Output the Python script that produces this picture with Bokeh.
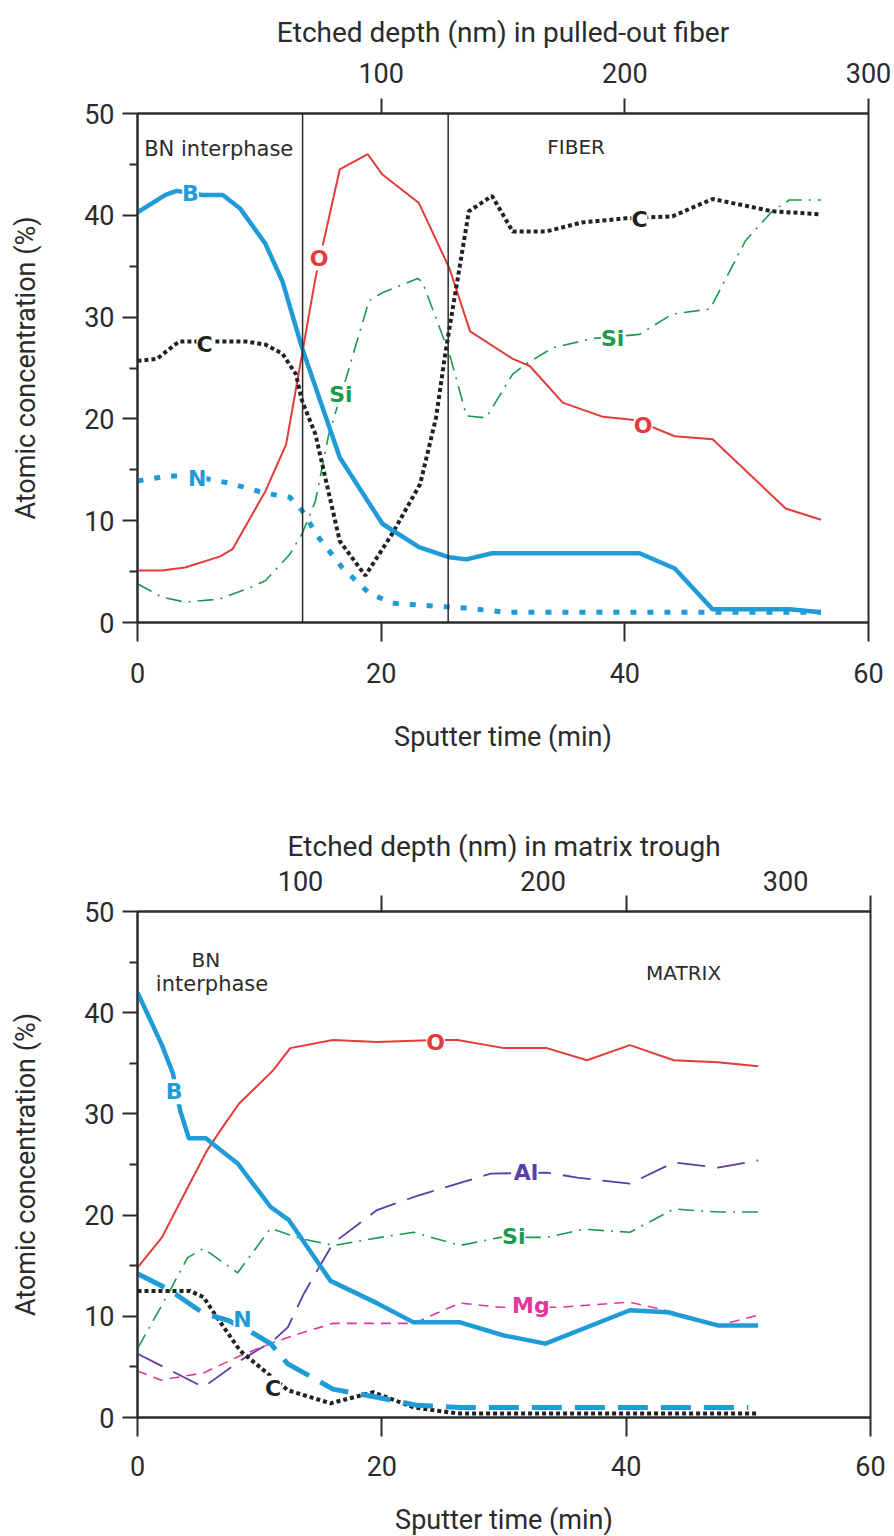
from bokeh.plotting import figure
from bokeh.models import Range1d, LinearAxis, FixedTicker, Span, Label
from bokeh.layouts import column
from bokeh.embed import file_html
from bokeh.resources import INLINE

FONT = "DejaVu Sans"
AXFONT = "Roboto"
INK = "#2b2b2b"
BLUE = "#1f9bd7"
RED = "#e53b3b"
GREEN = "#1b9a4f"
PURPLE = "#5a3ea6"
MAGENTA = "#e0379b"
BLACK = "#222222"

# ---------------- axes / ticks ----------------
time_ticks = [0, 20, 40, 60]
conc_ticks = [0, 10, 20, 30, 40, 50]
conc_minor = [5, 15, 25, 35, 45]
depth_tick_marks = [20, 40, 60]          # tick marks on top edge (in minutes)
depth_labels = [100, 200, 300]           # depth values (nm)
fiber_depth_range = (0, 300)
matrix_depth_range = (32.8, 335.0)
fiber_boundaries = [13.55, 25.5]

# ---------------- top panel: pulled-out fiber ----------------
fib_B_t = [0, 2.3, 3.2, 5.3, 7, 8.4, 10.5, 11.9, 13.5, 16.6, 20.1, 23.1, 25.6, 27.0, 29.1, 41.2, 44.1, 47.2, 53.5, 56.1]
fib_B_c = [40.3, 42.0, 42.4, 42.0, 42.0, 40.7, 37.2, 33.5, 27.0, 16.2, 9.7, 7.4, 6.4, 6.2, 6.8, 6.8, 5.3, 1.3, 1.3, 1.0]

fib_O_t = [0, 2, 3.9, 6.8, 7.8, 10.5, 12.2, 13.5, 14.6, 16.6, 18.9, 20.1, 23.1, 25.6, 27.3, 30.8, 32.2, 34.9, 38.2, 40.8, 44.1, 47.2, 53.2, 56.1]
fib_O_c = [5.1, 5.1, 5.4, 6.5, 7.2, 12.9, 17.5, 26.3, 33.8, 44.5, 46.0, 44.0, 41.2, 34.8, 28.6, 25.9, 25.2, 21.6, 20.2, 19.9, 18.3, 18.0, 11.2, 10.1]

fib_C_t = [0, 1.6, 3.4, 7, 8.9, 10.5, 11.9, 13, 13.5, 14.6, 16.6, 18.7, 20.9, 23.2, 24.5, 25.3, 27.2, 29.1, 30.8, 33.5, 36.5, 40.1, 43.9, 47.2, 52.1, 56]
fib_C_c = [25.7, 25.9, 27.6, 27.6, 27.6, 27.3, 26.4, 24.4, 21.8, 18.5, 8.0, 4.6, 8.7, 13.6, 20.1, 26.7, 40.4, 41.9, 38.4, 38.4, 39.3, 39.7, 39.9, 41.6, 40.4, 40.1]

fib_N_t = [0, 2, 4, 7.5, 10.5, 12.5, 13.5, 14.9, 16.8, 19, 20.9, 24.5, 27.2, 30.2, 47.2, 56.1]
fib_N_c = [13.9, 14.3, 14.5, 13.7, 12.7, 12.3, 11.0, 8.3, 5.4, 2.9, 1.9, 1.6, 1.4, 1.0, 1.0, 1.0]

fib_Si_t = [0, 2, 3.9, 6.7, 9.2, 10.5, 12.5, 13.5, 14.6, 15.7, 16.8, 19, 20.1, 23, 23.4, 25.6, 27, 28.6, 30.8, 31.9, 34.1, 37.4, 41.2, 43.9, 47, 49.9, 52.1, 53.5, 56.1]
fib_Si_c = [3.8, 2.5, 2.0, 2.3, 3.4, 4.1, 6.7, 8.7, 11.9, 18.5, 22.7, 31.6, 32.4, 33.8, 33.4, 26.4, 20.3, 20.1, 24.4, 25.4, 27.0, 27.9, 28.3, 30.3, 30.8, 37.5, 40.4, 41.5, 41.5]

# ---------------- bottom panel: matrix trough ----------------
mat_B_t = [0, 2, 2.9, 3.5, 4.2, 5.6, 6.2, 8.2, 10.9, 12.4, 15.8, 19.6, 22.6, 26.4, 30, 33.4, 40.3, 43.4, 47.5, 50.8]
mat_B_c = [42.0, 36.8, 34.0, 30.3, 27.6, 27.6, 27.0, 25.1, 20.8, 19.5, 13.5, 11.3, 9.4, 9.4, 8.1, 7.3, 10.6, 10.4, 9.1, 9.1]

mat_O_t = [0, 2, 4.1, 5.7, 6.8, 8.3, 11.1, 12.5, 16, 19.6, 24.4, 26.2, 30, 33.5, 36.8, 40.3, 43.9, 47.5, 50.8]
mat_O_c = [14.8, 17.8, 22.7, 26.4, 28.4, 31.0, 34.3, 36.5, 37.3, 37.1, 37.3, 37.3, 36.5, 36.5, 35.3, 36.8, 35.3, 35.1, 34.7]

mat_Si_t = [0, 2.5, 4.1, 5.4, 8.2, 10.9, 13.3, 16.1, 19.9, 22.6, 26.4, 29.7, 33.5, 36.5, 40.3, 43.9, 47.5, 50.8]
mat_Si_c = [6.8, 12.2, 15.8, 16.7, 14.3, 18.7, 17.7, 17.0, 17.8, 18.3, 17.0, 17.8, 17.8, 18.6, 18.3, 20.6, 20.3, 20.3]

mat_Al_t = [0, 5.4, 8.4, 11.1, 12.3, 13.6, 16, 19.6, 22.9, 28.9, 33.5, 36, 40.3, 43.9, 47.5, 50.8]
mat_Al_c = [6.3, 3.0, 5.6, 7.6, 8.9, 12.2, 17.2, 20.5, 21.9, 24.1, 24.2, 23.7, 23.1, 25.2, 24.7, 25.4]

mat_Mg_t = [0, 1.9, 5.4, 8.4, 11.1, 13.3, 16, 19.6, 22.6, 26.4, 29.7, 34.6, 40.3, 43.9, 47.5, 50.8]
mat_Mg_c = [4.6, 3.7, 4.4, 6.1, 7.4, 8.3, 9.3, 9.3, 9.3, 11.3, 10.9, 10.9, 11.4, 10.4, 9.1, 10.1]

mat_N_t = [0, 2.5, 5.4, 7.4, 9.5, 10.9, 12.3, 14.4, 16, 19.6, 22.9, 26.4, 50]
mat_N_c = [14.2, 12.7, 10.3, 9.6, 8.3, 7.3, 5.3, 3.9, 2.8, 2.0, 1.2, 1.0, 1.0]

mat_C_t = [0, 4.3, 5.4, 6.5, 8.4, 10.1, 12.3, 15.8, 19.3, 22.6, 26.2, 50.8]
mat_C_c = [12.5, 12.5, 11.9, 9.9, 6.6, 4.9, 2.7, 1.4, 2.5, 1.0, 0.4, 0.4]


def make_panel(fw, fh, left, right, top, bottom, depth_range, depth_title,
               tick_out_top, s_top_labels, s_top_title, s_bot_labels, s_bot_title):
    p = figure(frame_width=fw, frame_height=fh,
               x_range=Range1d(0, 60), y_range=Range1d(0, 50),
               output_backend="svg", toolbar_location=None,
               min_border_left=left, min_border_right=right,
               min_border_top=top, min_border_bottom=bottom,
               x_axis_label="Sputter time (min)",
               y_axis_label="Atomic concentration (%)")
    p.grid.visible = False
    p.outline_line_color = INK
    p.outline_line_width = 2
    p.outline_line_alpha = 1
    p.background_fill_color = "white"
    p.border_fill_color = "white"

    xa = p.xaxis[0]
    xa.ticker = FixedTicker(ticks=time_ticks)
    xa.major_tick_out = 19
    xa.major_tick_in = 0
    xa.major_label_standoff = s_bot_labels
    xa.axis_label_standoff = s_bot_title

    ya = p.yaxis[0]
    ya.ticker = FixedTicker(ticks=conc_ticks, minor_ticks=conc_minor)
    ya.major_tick_out = 15
    ya.major_tick_in = 0
    ya.minor_tick_out = 8
    ya.minor_tick_in = 0
    ya.major_label_standoff = 8
    ya.axis_label_standoff = 39
    ya.major_label_orientation = "horizontal"

    for ax in (xa, ya):
        ax.axis_line_color = INK
        ax.axis_line_width = 2
        ax.major_tick_line_color = INK
        ax.major_tick_line_width = 2
        ax.minor_tick_line_color = INK
        ax.minor_tick_line_width = 2
        ax.major_label_text_font = AXFONT
        ax.major_label_text_font_size = "27px"
        ax.major_label_text_color = INK
        ax.axis_label_text_font = AXFONT
        ax.axis_label_text_font_size = "27px"
        ax.axis_label_text_font_style = "normal"
        ax.axis_label_text_color = INK
    xa.minor_tick_line_color = None

    inner = LinearAxis(ticker=FixedTicker(ticks=depth_tick_marks),
                       major_tick_out=tick_out_top, major_tick_in=0,
                       major_tick_line_color=INK, major_tick_line_width=2,
                       minor_tick_line_color=None,
                       axis_line_color=INK, axis_line_width=2,
                       major_label_text_font_size="0px",
                       major_label_text_alpha=0,
                       major_label_standoff=0)
    p.add_layout(inner, "above")

    p.extra_x_ranges = {"depth": Range1d(*depth_range)}
    outer = LinearAxis(x_range_name="depth",
                       ticker=FixedTicker(ticks=depth_labels),
                       axis_line_color=None, major_tick_line_color=None,
                       minor_tick_line_color=None,
                       major_tick_out=0, major_tick_in=0,
                       major_label_standoff=s_top_labels,
                       major_label_text_font=AXFONT,
                       major_label_text_font_size="27px",
                       major_label_text_color=INK,
                       axis_label=depth_title,
                       axis_label_standoff=s_top_title,
                       axis_label_text_font=AXFONT,
                       axis_label_text_font_size="28px",
                       axis_label_text_font_style="normal",
                       axis_label_text_color=INK)
    p.add_layout(outer, "above")
    return p


def tag(p, x, y, text, color, size="22px", bold=True, align="center", bg=True):
    p.add_layout(Label(x=x, y=y, text=text, text_color=color, text_font=FONT,
                       text_font_size=size,
                       text_font_style="bold" if bold else "normal",
                       text_align=align, text_baseline="middle",
                       background_fill_color="white" if bg else None,
                       background_fill_alpha=1.0))


# ---------- top figure ----------
p1 = make_panel(731, 509, 135, 28, 113, 138, fiber_depth_range,
                "Etched depth (nm) in pulled-out fiber",
                15, 16, 11, 21, 35)
for loc in fiber_boundaries:
    p1.add_layout(Span(location=loc, dimension="height", line_color=INK, line_width=1.5))

p1.line(fib_O_t, fib_O_c, line_color=RED, line_width=2)
p1.line(fib_Si_t, fib_Si_c, line_color=GREEN, line_width=1.6, line_dash="16 7 2 7")
p1.line(fib_C_t, fib_C_c, line_color=BLACK, line_width=4, line_dash="4 3")
p1.line(fib_N_t, fib_N_c, line_color=BLUE, line_width=5, line_dash="6 11")
p1.line(fib_B_t, fib_B_c, line_color=BLUE, line_width=4.5, line_join="round")

tag(p1, 0.55, 46.5, "BN interphase", INK, size="21px", bold=False, align="left", bg=False)
tag(p1, 36.0, 46.7, "FIBER", INK, size="20px", bold=False, bg=False)
tag(p1, 4.35, 42.1, "B", BLUE)
tag(p1, 5.5, 27.3, "C", BLACK)
tag(p1, 4.9, 14.1, "N", BLUE)
tag(p1, 14.9, 35.8, "O", RED)
tag(p1, 16.7, 22.4, "Si", GREEN)
tag(p1, 41.2, 39.6, "C", BLACK)
tag(p1, 39.0, 27.9, "Si", GREEN)
tag(p1, 41.5, 19.4, "O", RED)

# ---------- bottom figure ----------
p2 = make_panel(733, 506, 137, 24, 151, 119, matrix_depth_range,
                "Etched depth (nm) in matrix trough",
                16, 5, 5, 19, 25)

p2.line(mat_O_t, mat_O_c, line_color=RED, line_width=2)
p2.line(mat_Al_t, mat_Al_c, line_color=PURPLE, line_width=1.8, line_dash="28 12")
p2.line(mat_Si_t, mat_Si_c, line_color=GREEN, line_width=1.6, line_dash="16 7 2 7")
p2.line(mat_Mg_t, mat_Mg_c, line_color=MAGENTA, line_width=1.6, line_dash="10 7")
p2.line(mat_C_t, mat_C_c, line_color=BLACK, line_width=4, line_dash="4 3")
p2.line(mat_N_t, mat_N_c, line_color=BLUE, line_width=5, line_dash="30 13")
p2.line(mat_B_t, mat_B_c, line_color=BLUE, line_width=4.5, line_join="round")

tag(p2, 5.6, 45.2, "BN", INK, size="20px", bold=False, bg=False)
tag(p2, 6.1, 42.8, "interphase", INK, size="21px", bold=False, bg=False)
tag(p2, 44.7, 43.9, "MATRIX", INK, size="20px", bold=False, bg=False)
tag(p2, 3.0, 32.2, "B", BLUE)
tag(p2, 24.4, 37.1, "O", RED)
tag(p2, 31.8, 24.2, "Al", PURPLE)
tag(p2, 30.8, 17.9, "Si", GREEN)
tag(p2, 32.2, 11.1, "Mg", MAGENTA)
tag(p2, 8.6, 9.7, "N", BLUE)
tag(p2, 11.1, 2.9, "C", BLACK)

layout = column(p1, p2)
open("out.html", "w").write(file_html(layout, INLINE))
